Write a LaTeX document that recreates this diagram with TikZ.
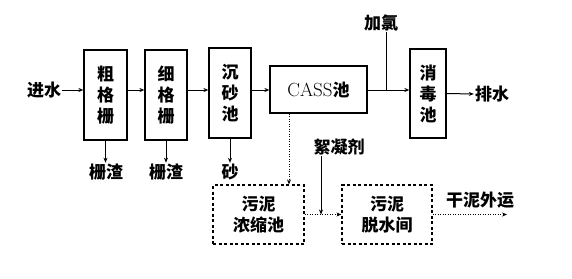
\documentclass[tikz,border=0pt]{standalone}
\usepackage{fontspec}
\newfontfamily\cjk{Noto Sans CJK SC}
\usetikzlibrary{positioning,arrows.meta}
\tikzset{
  unit/.style   = {draw, line width=1.3pt, align=center, inner sep=0pt,
                   font=\cjk\bfseries\fontsize{17}{21}\selectfont},
  sludge/.style = {draw, line width=1.2pt, dash pattern=on 3pt off 2.5pt,
                   align=center, inner sep=0pt,
                   font=\cjk\bfseries\fontsize{17}{21}\selectfont},
  arr/.style    = {-{Stealth[length=5pt,width=4pt]}, line width=1pt},
  dotarr/.style = {-{Stealth[length=5pt,width=4pt]}, line width=1pt,
                   dash pattern=on 1pt off 1.5pt},
  lbl/.style    = {inner sep=1pt, font=\cjk\bfseries\fontsize{17}{21}\selectfont},
}

\begin{document}
\begin{tikzpicture}[x=1pt,y=-1pt]
        \useasboundingbox (0,0) rectangle (572,278);
        % -- Main water line -------------------------------------------
        \node[unit, minimum width=43pt, minimum height=90pt]
            (coarse) at (105.5,95) {粗\\格\\栅};
        \node[unit, minimum width=42pt, minimum height=90pt]
            (fine) at (166,95) {细\\格\\栅};
        \node[unit, minimum width=42pt, minimum height=90pt]
            (grit) at (230,93) {沉\\砂\\池};
        \node[unit, minimum width=97pt, minimum height=47pt]
            (cass) at (318.5,89.5) {{\normalfont\fontsize{19}{21}\selectfont CASS}池};
        \node[unit, minimum width=36pt, minimum height=89pt]
            (disinf) at (428,93.5) {消\\毒\\池};

        \node[lbl] (inwater) at (44,90) {进水};
        \node[lbl] (outwater) at (492,94) {排水};
        \node[lbl] (chlorine) at (381,23) {加氯};

        \draw[arr] (inwater.east) -- (inwater -| coarse.west);
        \draw[arr] (inwater -| coarse.east) -- (inwater -| fine.west);
        \draw[arr] (inwater -| fine.east) -- (inwater -| grit.west);
        \draw[arr] (inwater -| grit.east) -- (inwater -| cass.west);
        \draw[arr] (inwater -| cass.east) -- (inwater -| disinf.west);
        \draw[line width=1pt] ([xshift=5pt]chlorine.south) -- ([xshift=5pt]chlorine.south |- inwater);
        \draw[arr] (disinf.east) -- (outwater.west);

        % -- Screenings and grit ---------------------------------------
        \node[lbl] (rake1) at (106,172) {栅渣};
        \node[lbl] (rake2) at (166,172) {栅渣};
        \node[lbl] (sand) at (230,172) {砂};
        \foreach \src/\dst in {coarse/rake1, fine/rake2, grit/sand}{
            \draw[arr] (\src.south) -- (\src.south |- \dst.north);
        }

        % -- Sludge line -----------------------------------------------
        \node[sludge, minimum width=91pt, minimum height=59pt]
            (thick) at (258.5,214.5) {污泥\\浓缩池};
        \node[sludge, minimum width=90pt, minimum height=59pt]
            (dewater) at (387,214.5) {污泥\\脱水间};
        \node[lbl] (floc) at (339,147) {絮凝剂};
        \node[lbl] (haul) at (480,200) {干泥外运};
        \coordinate (haulend) at (507,214.5);

        \draw[dotarr] ([xshift=-29.5pt]cass.south) -- ([xshift=-29.5pt]cass.south |- thick.north);
        \draw[dotarr] (thick.east) -- (dewater.west);
        \draw[arr] ([xshift=-18pt]floc.south) -- ([xshift=-18pt]floc.south |- thick.east);
        \draw[dotarr] (dewater.east) -- (haulend);
\end{tikzpicture}
\end{document}
